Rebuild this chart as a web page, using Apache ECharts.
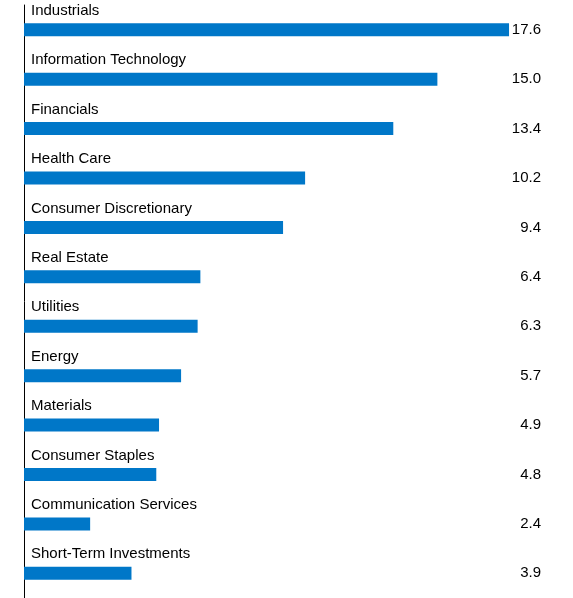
<!DOCTYPE html>
<html>
<head>
<meta charset="utf-8">
<script src="https://cdn.jsdelivr.net/npm/echarts@6/dist/echarts.min.js"></script>
<style>html,body{margin:0;padding:0;background:#fff}#chart{width:573px;height:598px}</style>
</head>
<body>
<div id="chart"></div>
<script>
const sectors = ['Industrials', 'Information Technology', 'Financials', 'Health Care',
  'Consumer Discretionary', 'Real Estate', 'Utilities', 'Energy', 'Materials',
  'Consumer Staples', 'Communication Services', 'Short-Term Investments'];
const weights = [17.6, 15.0, 13.4, 10.2, 9.4, 6.4, 6.3, 5.7, 4.9, 4.8, 2.4, 3.9];
const valueLabels = weights.map(v => v.toFixed(1));

const chart = echarts.init(document.getElementById('chart'));
chart.setOption({
  animation: false,
  grid: { left: 24, right: 24, top: 5, height: 602 },
  xAxis: { type: 'value', min: 0, max: 19.05, show: false },
  yAxis: [
    {
      type: 'category', data: sectors, inverse: true,
      axisLine: { show: true, lineStyle: { color: '#000', width: 1 } },
      axisTick: { show: false }, axisLabel: { show: false }
    },
    {
      type: 'category', data: valueLabels, inverse: true, position: 'right',
      axisLine: { show: false }, axisTick: { show: false },
      axisLabel: { inside: true, color: '#000', fontSize: 15, fontFamily: 'Liberation Sans' }
    }
  ],
  series: [{
    type: 'bar', data: weights, barWidth: 13,
    itemStyle: { color: '#0077C8' },
    label: {
      show: true, position: [7, -20], formatter: '{b}',
      color: '#000', fontSize: 15, fontFamily: 'Liberation Sans'
    }
  }]
});
</script>
</body>
</html>
